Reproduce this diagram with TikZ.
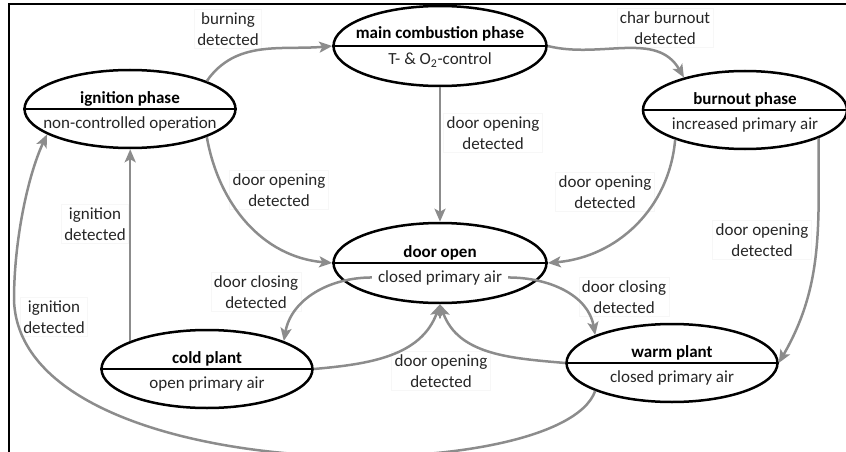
\documentclass[tikz,border=0pt]{standalone}
\usepackage{fontspec}
\setmainfont{Carlito}
\usetikzlibrary{arrows.meta,shapes.geometric}

\begin{document}
\begin{tikzpicture}[x=1pt, y=-1pt, every node/.style={font=\fontsize{17}{21}\selectfont, text=black!85}, >={Stealth[length=13pt, width=11pt, inset=3pt]},
	st/.style={draw=black, ellipse, line width=2.5pt, minimum width=211pt, minimum height=78pt, inner sep=0pt},
	ttl/.style={anchor=base, font=\fontsize{17}{21}\selectfont\bfseries, text=black, inner sep=0pt},
	sub/.style={anchor=base, inner sep=6pt},
	mid/.style={line width=1.2pt},
	lb/.style={fill=white, draw=black!3, align=center, inner sep=3pt},
	ar/.style={->, draw=black!45, line width=2.5pt}]
	\useasboundingbox (0,0) rectangle (846,452);
	\draw[line width=2.5pt] (9,452) -- (9,4) -- (846,4);
	\node[st, minimum width=213pt, minimum height=80pt] (main) at (440,46) {};
	\node[st] (ign) at (130,109) {};
	\node[st, minimum width=204pt] (burn) at (745,110) {};
	\node[st, minimum width=213pt, minimum height=80pt] (door) at (440,263) {};
	\node[st] (cold) at (207,369) {};
	\node[st] (warm) at (672,363) {};
	\draw[mid] (main.west) -- (main.east);
	\draw[mid] (ign.west) -- (ign.east);
	\draw[mid] (burn.west) -- (burn.east);
	\draw[mid] (door.west) -- (door.east);
	\draw[mid] (cold.west) -- (cold.east);
	\draw[mid] (warm.west) -- (warm.east);
	\node[ttl] (main-t) at ([yshift=7pt]main.center) {main combustion phase};
	\node[sub] (main-s) at ([yshift=-19pt]main.center) {T- \& O\textsubscript{2}-control};
	\node[ttl] (ign-t) at ([yshift=6pt]ign.center) {ignition phase};
	\node[sub] (ign-s) at ([yshift=-19pt]ign.center) {non-controlled operation};
	\node[ttl] (burn-t) at ([yshift=6pt]burn.center) {burnout phase};
	\node[sub] (burn-s) at ([yshift=-19pt]burn.center) {increased primary air};
	\node[ttl] (door-t) at ([yshift=6pt]door.center) {door open};
	\node[sub] (door-s) at ([yshift=-19pt]door.center) {closed primary air};
	\node[ttl] (cold-t) at ([yshift=6pt]cold.center) {cold plant};
	\node[sub] (cold-s) at ([yshift=-19pt]cold.center) {open primary air};
	\node[ttl] (warm-t) at ([yshift=6pt]warm.center) {warm plant};
	\node[sub] (warm-s) at ([yshift=-19pt]warm.center) {closed primary air};
	\node[lb] (l1) at (228,29) {burning\\detected};
	\node[lb] (l2) at (665,28) {char burnout\\detected};
	\node[lb] (l3) at (493,133) {door opening\\detected};
	\node[lb] (l4) at (279,190) {door opening\\detected};
	\node[lb] (l5) at (605,192) {door opening\\detected};
	\node[lb] (l6) at (762,240) {door opening\\detected};
	\node[lb] (l7) at (256,292) {door closing\\detected};
	\node[lb] (l8) at (624,297) {door closing\\detected};
	\node[lb] (l9) at (441,371) {door opening\\detected};
	\node[lb] (l10) at (95,224) {ignition\\detected};
	\node[lb] (l11) at (54,317) {ignition\\detected};
	\draw[ar] (ign.20) to[out=55, in=185] (main.west);
	\draw[ar] (main.east) to[out=-14, in=120] (burn.152);
	\draw[ar] (main.south) -- (door.north);
	\draw[ar] (ign.-20) to[out=-80, in=175] (door.west);
	\draw[ar] (burn.-157) to[out=-95, in=5] (door.east);
	\draw[ar] (burn.-21) to[out=-90, in=60] (warm.east);
	\draw[ar] (door-s.west) to[out=180, in=80] (cold.20);
	\draw[ar] (cold.east) to[out=5, in=-110] (door.south);
	\draw[ar] (warm.west) to[out=175, in=-70] (door.south);
	\draw[ar] (door-s.east) to[out=0, in=100] (warm.160);
	\draw[ar] (cold.160) -- (cold.160 |- ign.south);
	\draw[ar] (warm.200) .. controls (560,490) and (20,490) .. (14,300) .. controls (14,240) and (28,175) .. (ign.197);
\end{tikzpicture}
\end{document}
